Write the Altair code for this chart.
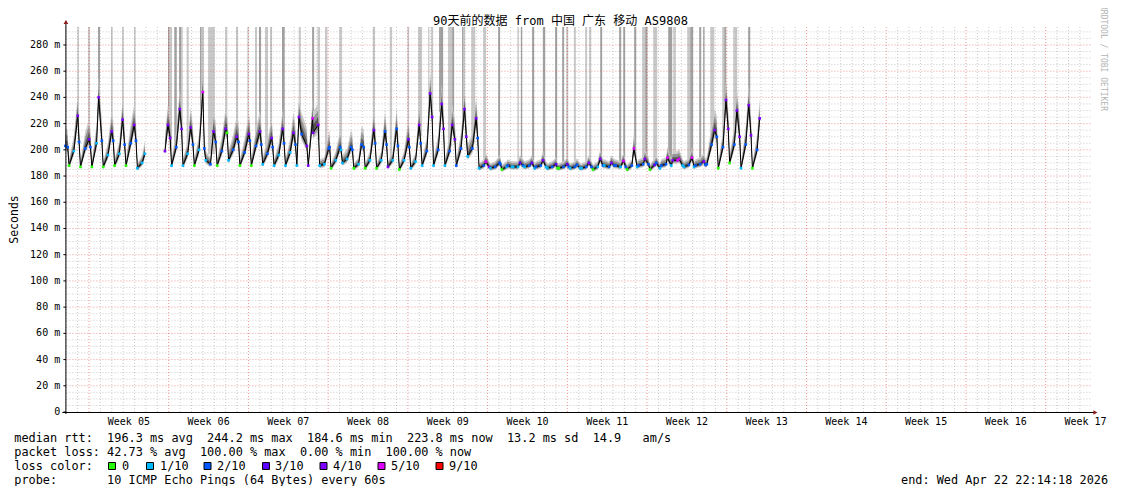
import altair as alt
import numpy as np
import pandas as pd

MONO = "DejaVu Sans Mono"
TITLE_FONT = "DejaVu Sans Mono, Noto Sans CJK SC"
NB = "\u00a0"

# ---------------- time frame ----------------
start = pd.Timestamp("2026-01-22 22:14:18")
first_midnight = pd.Timestamp("2026-01-23 00:00:00")
SPAN_DAYS = 90
Y_MAX = 293.7
off0 = (first_midnight - start) / pd.Timedelta(days=1)

title_text = "90天前的数据 from 中国 广东 移动 AS9808"
y_title = "Seconds"
week_labels = ["Week 05", "Week 06", "Week 07", "Week 08", "Week 09", "Week 10", "Week 11",
               "Week 12", "Week 13", "Week 14", "Week 15", "Week 16", "Week 17"]
y_ticks = [0, 20, 40, 60, 80, 100, 120, 140, 160, 180, 200, 220, 240, 260, 280]
y_tick_labels = ["0  ", "20 m", "40 m", "60 m", "80 m", "100 m", "120 m", "140 m", "160 m",
                 "180 m", "200 m", "220 m", "240 m", "260 m", "280 m"]

# ---------------- median rtt (ms), one row per day from Jan 23 ----------------
start_hours = [22.238, 27.0]
start_vals = [203, 202]
start_loss = [2, 2]

day_low = [188, 187, 187, 187, 188, 188, 186, None, None, 188, 188, 188, 192, 188, 192, 188,
           188, 189, 188, 188, 188, 188, 188, 186, 190, 186, 186, 186, 187, 185, 186, 188,
           188, 188, 188, 195, 186, 186, 185, 187, 187, 187, 186, 186, 186, 186, 185, 188,
           188, 185, 188, 185, 188, 192, 187, 188, 189, 186, 190, 186, 186]
day_mid = [199, 201, 205, 196, 197, 205, 190, None, 199, 202, 197, 200, 189, 199, 200, 198,
           203, 197, 196, 198, 212, 213, 189, 192, 193, 189, 192, 192, 192, 192, 191, 199,
           200, 199, 201, 201, 188, 187, 187, 187, 188, 188, 187, 187, 187, 187, 187, 187,
           187, 188, 189, 188.5, 189, 192, 188.5, 189, 204, 202, 204, 204, 200]
day_peak = [226, 208, 240, 214, 223, 219, 197, None, 219, 231, 217, 244, 214, 216, 210, 212,
            214, 209, 216, 213, 225, 224, 201, 202, 202, 204, 215, 214, 216, 208, 219, 243,
            235, 219, 231, 224, 191, 190, 188, 190, 190, 192, 189, 189, 188.5, 190, 193, 190,
            191.5, 201, 193, 190, 194, 193, 194, 191, 215, 238, 230, 234, 224]
day_late = [206, 202, 207, 207, 204, 207, None, None, 209, 216, 204, 201, 206, 213, 206, 207,
            204, 202, 205, 204, 203, 219, 202, 200, 200, 202, 205, 204, 203, 202, 205, 225,
            216, 208, 210, 209, 187, 189, 187, 188, 186, 187, 186, 187, 186, 187, 188, 188,
            187, 187, 189, 186, 188, 188, 187, 188.5, 210, 216, 210, 211, None]
peak_hour = [24.3, 24.3, 20.3, 23.8, 22.8, 23.3, 21.8, 0, 22.3, 23.3, 22.3, 23.8, 22.3, 23.8,
             23.3, 24.8, 24.3, 24.8, 24.3, 22.8, 10.3, 15.3, 25.3, 25.3, 24.3, 22.3, 24.3,
             23.8, 24.3, 25.3, 23.8, 22.8, 23.3, 21.3, 23.3, 23.8, 20.3, 25.3, 18.3, 20.3,
             21.3, 20.8, 24.3, 23.8, 20.3, 21.3, 21.3, 20.8, 22.3, 20.3, 19.3, 19.3, 18.8,
             19.3, 22.8, 23.3, 22.3, 22.3, 21.3, 22.3, 21.3]
# loss level of (low, mid, peak, late): index into loss_labels
day_loss = ["0142", "0242", "0142", "0142", "0142", "0242", "111-", "----", "-444", "1244",
            "1142", "0152", "1242", "0240", "1242", "0242", "0242", "1242", "1142", "1142",
            "1244", "4454", "1122", "0121", "1122", "0122", "0142", "0122", "4122", "0142",
            "1142", "1244", "1244", "1244", "2244", "1242", "1254", "1222", "0121", "1132",
            "1231", "2241", "1230", "0232", "1221", "1242", "0142", "1242", "2152", "0251",
            "2242", "0321", "2251", "4551", "1251", "2242", "2242", "0244", "0244", "1244",
            "024-"]

loss_labels = ["0", "1/10", "2/10", "3/10", "4/10", "5/10", "9/10"]
loss_colors = ["#26ff00", "#00b8ff", "#0059ff", "#5e00ff", "#7e00ff", "#dd00ff", "#ff0000"]

# ---------------- full-height smoke columns (days since start) ----------------
bar_start = [1.05, 1.99, 2.86, 4.00, 4.97, 6.03, 9.01, 9.14, 9.56, 9.98, 10.15, 10.65, 11.82,
             11.95, 12.53, 14.04, 14.98, 15.98, 16.65, 17.00, 17.53, 17.97, 19.02, 20.49,
             21.66, 22.13, 22.80, 24.06, 26.99, 28.48, 30.03, 30.97, 31.85, 32.11, 32.81,
             33.60, 33.96, 34.83, 34.95, 35.63, 36.68, 38.00, 39.69, 39.99, 40.98, 41.92,
             43.00, 43.62, 43.97, 44.65, 45.64, 45.99, 46.96, 48.62, 48.98, 49.94, 50.64,
             50.91, 51.61, 52.93, 53.37, 54.60, 54.86, 55.65, 56.00, 56.62, 57.67, 57.85,
             58.64, 59.95]
bar_end = [1.19, 2.16, 3.04, 4.15, 5.12, 6.17, 9.14, 9.36, 9.78, 10.15, 10.30, 10.83, 11.95,
           12.17, 13.11, 14.22, 15.16, 16.10, 16.83, 17.18, 17.79, 18.15, 19.26, 20.67,
           21.84, 22.36, 23.00, 24.29, 27.19, 28.69, 30.18, 31.32, 31.96, 32.29, 33.17,
           33.96, 34.13, 34.95, 35.10, 35.98, 36.94, 38.17, 39.82, 40.11, 41.16, 42.13,
           43.18, 43.79, 44.15, 44.82, 45.81, 46.17, 47.13, 48.80, 49.15, 50.12, 50.91,
           51.11, 51.96, 53.28, 53.60, 54.86, 55.12, 55.83, 56.12, 56.97, 57.85, 58.02,
           58.99, 60.13]
bar_shade = ["L", "L", "D", "L", "L", "L", "D", "L", "D", "D", "L", "L", "D", "L", "L", "L",
             "L", "L", "L", "D", "L", "L", "D", "L", "D", "L", "L", "L", "L", "L", "L", "L",
             "L", "L", "D", "L", "D", "D", "L", "L", "L", "D", "L", "D", "D", "D", "D", "D",
             "L", "L", "L", "L", "D", "D", "D", "D", "L", "D", "L", "D", "L", "L", "D", "D",
             "D", "L", "L", "D", "L", "D"]

# ---------------- build tables ----------------
pts = []
for h, v, l in zip(start_hours, start_vals, start_loss):
    pts.append(dict(t=off0 - 1 + h / 24, v=float(v), loss=l, seg=0))
for k in range(len(day_low)):
    seg = 0 if k < 7 else 1
    slots = [(6.0, day_low[k]), (16.0, day_mid[k]), (peak_hour[k], day_peak[k]), (27.0, day_late[k])]
    for j, (h, v) in enumerate(slots):
        if v is None:
            continue
        pts.append(dict(t=off0 + k + h / 24, v=float(v), loss=int(day_loss[k][j]), seg=seg))
df = pd.DataFrame(pts).sort_values(["seg", "t"]).reset_index(drop=True)

d = np.clip(df["v"].values - 185.0, 1.0, None)
v = df["v"].values
df["lo1"] = v - (1.8 + 0.12 * d)
df["hi1"] = v + np.minimum(3.0 + 0.6 * d, 16.0)
df["lo2"] = v - (1.2 + 0.07 * d)
df["hi2"] = v + np.minimum(2.0 + 0.4 * d, 11.0)
df["lo3"] = v - 0.8
df["hi3"] = v + np.minimum(1.0 + 0.2 * d, 6.0)

bars = pd.DataFrame(dict(t0=bar_start, t1=bar_end, shade=bar_shade))
bars["bottom"] = np.interp((bars["t0"] + bars["t1"]) / 2, df["t"], df["v"])
bars["top"] = Y_MAX

# grid
ygrid_minor = pd.DataFrame(dict(y=[y for y in range(5, 295, 5) if y % 20 != 0]))
ygrid_major = pd.DataFrame(dict(y=y_ticks[1:]))
ylabels = pd.DataFrame(dict(y=y_ticks, label=[s.replace(" ", NB) for s in y_tick_labels]))
day_t, sun_t = [], []
for k in range(SPAN_DAYS):
    t = off0 + k
    if t >= SPAN_DAYS:
        break
    dte = first_midnight + pd.Timedelta(days=k)
    (sun_t if dte.weekday() == 6 else day_t).append(t)
xgrid_minor = pd.DataFrame(dict(t=day_t))
xgrid_major = pd.DataFrame(dict(t=sun_t))
weeks = pd.DataFrame(dict(t=[s + 3.5 for s in sun_t][: len(week_labels)], label=week_labels))

# ---------------- chart ----------------
W, H = 1025, 385
xs = alt.Scale(domain=[0, SPAN_DAYS], nice=False, zero=False)
ys = alt.Scale(domain=[0, Y_MAX], nice=False, zero=False)
X = lambda f: alt.X(f, scale=xs, axis=None, title=None)
Y = lambda f: alt.Y(f, scale=ys, axis=None, title=None)

layers = []
for shade, col in (("L", "#c8c8c8"), ("D", "#a2a2a2")):
    layers.append(alt.Chart(bars[bars["shade"] == shade]).mark_rect(color=col, opacity=1).encode(
        x=X("t0:Q"), x2="t1:Q", y=Y("bottom:Q"), y2="top:Q"))

for s in (0, 1):
    part = df[df["seg"] == s]
    for lo, hi, col in (("lo1", "hi1", "#cdcdcd"), ("lo2", "hi2", "#969696"), ("lo3", "hi3", "#555555")):
        layers.append(alt.Chart(part).mark_area(color=col, opacity=1, interpolate="linear",
                                                orient="vertical").encode(
            x=X("t:Q"), y=Y(f"{lo}:Q"), y2=alt.Y2(f"{hi}:Q")))

layers.append(alt.Chart(ygrid_minor).mark_rule(color="#8c8c8c", opacity=0.45, strokeDash=[1, 2]).encode(y=Y("y:Q")))
layers.append(alt.Chart(xgrid_minor).mark_rule(color="#8c8c8c", opacity=0.45, strokeDash=[1, 2]).encode(x=X("t:Q")))
layers.append(alt.Chart(xgrid_major).mark_rule(color="#dd3333", opacity=0.5, strokeDash=[1, 2]).encode(x=X("t:Q")))
layers.append(alt.Chart(ygrid_major).mark_rule(color="#dd3333", opacity=0.5, strokeDash=[1, 2]).encode(y=Y("y:Q")))

for s in (0, 1):
    part = df[df["seg"] == s]
    layers.append(alt.Chart(part).mark_line(color="#000000", strokeWidth=1).encode(
        x=X("t:Q"), y=Y("v:Q")))
layers.append(alt.Chart(df).mark_square(size=7, opacity=1).encode(
    x=X("t:Q"), y=Y("v:Q"),
    color=alt.Color("loss:O", scale=alt.Scale(domain=list(range(7)), range=loss_colors), legend=None)))

one = pd.DataFrame({"a": [0]})
# y tick marks and labels
layers.append(alt.Chart(ylabels).mark_rule(color="#000000", strokeWidth=1).encode(
    y=Y("y:Q"), x=alt.value(-2), x2=alt.value(0.5)))
layers.append(alt.Chart(ylabels).mark_text(font=MONO, fontSize=10, color="#000000", align="right",
                                           baseline="middle").encode(
    y=Y("y:Q"), x=alt.value(-5.2), text="label:N"))
# axes lines and arrows
layers.append(alt.Chart(one).mark_rule(color="#000000", strokeWidth=1).encode(
    x=alt.value(0.5), y=alt.value(-6), y2=alt.value(H + 2)))
layers.append(alt.Chart(one).mark_rule(color="#000000", strokeWidth=1).encode(
    x=alt.value(-3), x2=alt.value(W + 4), y=alt.value(H + 0.5)))
layers.append(alt.Chart(one).mark_point(shape="triangle-up", filled=True, size=22, color="#8e1c1c", opacity=1).encode(
    x=alt.value(0.5), y=alt.value(-5)))
layers.append(alt.Chart(one).mark_point(shape="triangle-right", filled=True, size=22, color="#8e1c1c", opacity=1).encode(
    x=alt.value(W + 5), y=alt.value(H + 0.5)))

layers.append(alt.Chart(weeks).mark_text(font=MONO, fontSize=10, color="#000000", baseline="middle").encode(
    x=X("t:Q"), y=alt.value(H + 9.5), text="label:N"))


def label(s, x, y, size=11.86, align="left", color="#000000", angle=0, font=MONO):
    return alt.Chart(one).mark_text(text=s.replace(" ", NB), align=align, baseline="middle", font=font,
                                    fontSize=size, color=color, angle=angle).encode(
        x=alt.value(x), y=alt.value(y))


X0, Y0 = 65.4, 27.0  # page position of the plot origin
rows_y = [438.0, 452.0, 466.0, 480.0]
layers.append(label(title_text, 560.5 - X0, 20.5 - Y0, size=12, align="center", font=TITLE_FONT))
layers.append(label(y_title, 15 - X0, 219.5 - Y0, size=11.5, align="center", angle=270))
layers.append(label("RRDTOOL / TOBI OETIKER", 1102.5 - X0, 5 - Y0, size=8.0, color="#b4b4b4", angle=90))
layers.append(label("median rtt:  196.3 ms avg  244.2 ms max  184.6 ms min  223.8 ms now  13.2 ms sd  14.9   am/s",
                    14.3 - X0, rows_y[0] - Y0))
layers.append(label("packet loss: 42.73 % avg  100.00 % max  0.00 % min  100.00 % now", 14.3 - X0, rows_y[1] - Y0))
layers.append(label("loss color:", 14.3 - X0, rows_y[2] - Y0))
layers.append(label("probe:       10 ICMP Echo Pings (64 Bytes) every 60s", 14.3 - X0, rows_y[3] - Y0))
layers.append(label("end: Wed Apr 22 22:14:18 2026", 901 - X0, rows_y[3] - Y0))

box_x = [112, 150, 207.5, 266, 323.5, 381.5, 439.5]
lab_x = [122, 160, 217, 275, 333, 391, 449]
for bx, lx, lab, col in zip(box_x, lab_x, loss_labels, loss_colors):
    layers.append(alt.Chart(one).mark_square(size=49, color=col, opacity=1, stroke="#000000", strokeWidth=1).encode(
        x=alt.value(bx - X0), y=alt.value(rows_y[2] - Y0)))
    layers.append(label(lab, lx - X0, rows_y[2] - Y0))

chart = alt.layer(*layers).properties(
    width=W, height=H,
    padding={"left": 57.4, "top": 19, "right": 22.6, "bottom": 74},
    autosize=alt.AutoSizeParams(type="none"),
    background="#ffffff",
).configure_view(stroke=None)

chart.save("out.html", embed_options={"renderer": "svg", "actions": False})
